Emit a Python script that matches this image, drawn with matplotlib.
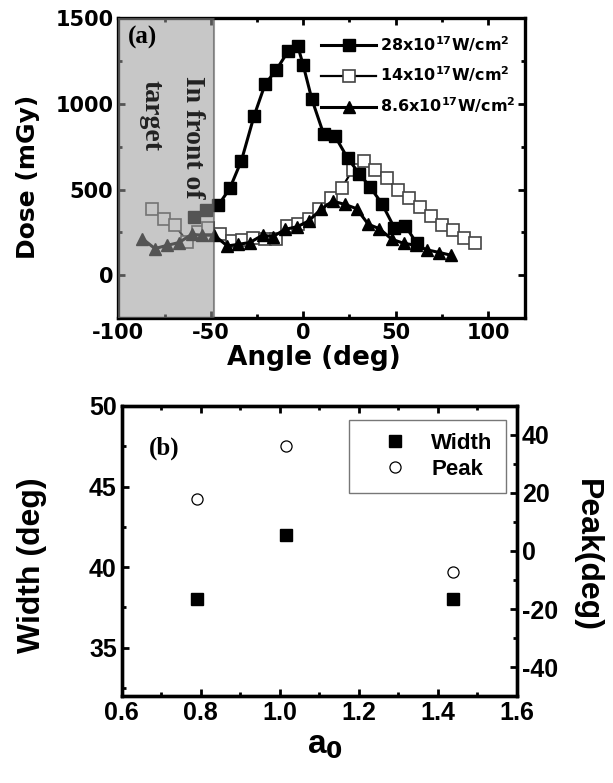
import matplotlib
matplotlib.use("Agg")
import matplotlib.pyplot as plt
from matplotlib.ticker import MultipleLocator

plt.rcParams['font.family'] = ['Liberation Sans', 'DejaVu Sans']
plt.rcParams['font.weight'] = 'bold'
plt.rcParams['axes.unicode_minus'] = False
plt.rcParams['mathtext.fontset'] = 'custom'
plt.rcParams['mathtext.rm'] = 'DejaVu Sans:bold'
plt.rcParams['mathtext.bf'] = 'DejaVu Sans:bold'
plt.rcParams['mathtext.default'] = 'bf'

# panel (a): dose vs angle
ang_28 = [-59, -52.4, -46, -39.7, -33.4, -26.5, -20.6, -14.6, -8.0, -2.9, 0.0, 4.7, 11.0,
          17.3, 24.0, 30.3, 36.3, 42.6, 49.3, 55.3, 61.4]
dose_28 = [341, 378, 407, 506, 669, 932, 1115, 1198, 1310, 1337, 1227, 1027, 826,
           810, 684, 593, 513, 417, 277, 287, 186]

ang_14 = [-81.6, -75.3, -69.3, -62.7, -56.7, -51.3, -45.1, -38.6, -32.9, -26.9, -20.9, -14.8,
          -8.5, -2.6, 2.9, 8.7, 15.0, 21.0, 26.7, 33.0, 39.0, 45.1, 51.1, 57.0, 63.2, 69.2,
          75.1, 81.3, 87.0, 93.2]
dose_14 = [388, 326, 291, 194, 252, 277, 238, 199, 205, 219, 213, 213,
           287, 300, 326, 388, 448, 510, 616, 665, 616, 568, 496, 448, 399, 345,
           291, 263, 219, 186]

ang_86 = [-87, -80.2, -73.5, -67.2, -60.3, -54.5, -48.2, -41, -35, -28.9, -22, -16.3, -9.8,
          -3.1, 2.9, 9.6, 15.9, 22.6, 28.9, 35.2, 41.2, 48, 54.3, 61, 67.2, 73.7, 80]
dose_86 = [213, 155, 174, 190, 238, 233, 233, 170, 180, 190, 233, 225, 267,
           283, 316, 384, 432, 413, 388, 297, 271, 209, 186, 174, 147, 132, 116]

labels_a = [r'28x10$^{17}$W/cm$^{2}$', r'14x10$^{17}$W/cm$^{2}$', r'8.6x10$^{17}$W/cm$^{2}$']

# panel (b): width and peak vs a0
a0 = [0.79, 1.016, 1.437]
width = [38, 42, 38]
peak = [18.1, 36.3, -7.1]

fig = plt.figure(figsize=(6.13, 7.83), dpi=100)

def style(ax, size, right=True):
    for s in ax.spines.values():
        s.set_linewidth(2.4)
    ax.tick_params(which='both', direction='in', top=True, right=right, width=2, labelsize=size)
    ax.tick_params(which='major', length=5)
    ax.tick_params(which='minor', length=3)

ax1 = fig.add_axes([0.193, 0.594, 0.6635, 0.3826])
ax1.plot(ang_28, dose_28, '-s', color='black', lw=2.2, ms=8, label=labels_a[0], zorder=3)
ax1.plot(ang_14, dose_14, '-s', color='black', lw=1.6, ms=8, mfc='white', mec='#444444',
         mew=1.2, label=labels_a[1], zorder=2)
ax1.plot(ang_86, dose_86, '-^', color='black', lw=2.2, ms=9, label=labels_a[2], zorder=3)
ax1.axvspan(-100, -48, facecolor='#9a9a9a', alpha=0.55, edgecolor='#444444', lw=1.5, zorder=4)
ax1.set_xlim(-100, 120)
ax1.set_ylim(-250, 1500)
ax1.xaxis.set_major_locator(MultipleLocator(50))
ax1.xaxis.set_minor_locator(MultipleLocator(25))
ax1.yaxis.set_major_locator(MultipleLocator(500))
ax1.yaxis.set_minor_locator(MultipleLocator(250))
style(ax1, 15)
for lab in ax1.get_xticklabels() + ax1.get_yticklabels():
    lab.set_family('DejaVu Sans')
ax1.set_xlabel('Angle (deg)', fontsize=19, fontweight='bold', family='DejaVu Sans')
ax1.set_ylabel('Dose (mGy)', fontsize=18, fontweight='bold', family='DejaVu Sans')
ax1.xaxis.set_label_coords(0.481, -0.09)
ax1.yaxis.set_label_coords(-0.193, 0.47)
ax1.text(-95, 1390, '(a)', family='Liberation Serif', fontsize=18, fontweight='bold',
         va='center', zorder=6)
ax1.text(-59.6, 1165, 'In front of', family='Liberation Serif', fontsize=20, fontweight='bold',
         rotation=270, ha='center', va='top', color='#222222', zorder=6)
ax1.text(-82.3, 1140, 'target', family='Liberation Serif', fontsize=20, fontweight='bold',
         rotation=270, ha='center', va='top', color='#222222', zorder=6)
leg1 = ax1.legend(loc='upper right', frameon=False, handlelength=3.4,
                  handletextpad=0.25, labelspacing=0.7, borderaxespad=0.2,
                  bbox_to_anchor=(1.0, 0.98),
                  prop={'family': 'DejaVu Sans', 'weight': 'bold', 'size': 11.5})

ax2 = fig.add_axes([0.1985, 0.1111, 0.6449, 0.3704])
ax3 = ax2.twinx()
h1, = ax2.plot(a0, width, 's', color='black', ms=8.6, label='Width')
h2, = ax3.plot(a0, peak, 'o', mfc='white', mec='black', mew=0.9, ms=8, label='Peak')
ax2.set_xlim(0.6, 1.6)
ax2.set_ylim(32, 50)
ax3.set_ylim(-50, 50)
ax2.xaxis.set_major_locator(MultipleLocator(0.2))
ax2.xaxis.set_minor_locator(MultipleLocator(0.1))
ax2.yaxis.set_major_locator(MultipleLocator(5))
ax2.yaxis.set_minor_locator(MultipleLocator(2.5))
ax3.yaxis.set_major_locator(MultipleLocator(20))
ax3.yaxis.set_minor_locator(MultipleLocator(10))
style(ax2, 18, right=False)
for s in ax3.spines.values():
    s.set_linewidth(2.4)
ax3.tick_params(which='both', direction='in', width=2, labelsize=18)
ax3.tick_params(which='major', length=5)
ax3.tick_params(which='minor', length=3)
ax2.set_xlabel(r'a$_0$', fontsize=24, fontweight='bold')
ax2.set_ylabel('Width (deg)', fontsize=23, fontweight='bold')
ax3.set_ylabel('Peak(deg)', fontsize=23, fontweight='bold', rotation=270)
ax2.xaxis.set_label_coords(0.515, -0.117)
ax2.yaxis.set_label_coords(-0.19, 0.452)
ax3.yaxis.set_label_coords(1.215, 0.486)
ax2.text(0.668, 47.4, '(b)', family='Liberation Serif', fontsize=18, fontweight='bold', va='center')
leg = ax2.legend([h1, h2], ['Width', 'Peak'], loc='upper right', fontsize=16, fancybox=False,
                 edgecolor='#555555', handletextpad=0.15, borderpad=0.6, borderaxespad=0,
                 handlelength=2.95, labelspacing=0.2, bbox_to_anchor=(0.972, 0.952))
leg.get_frame().set_linewidth(1.0)

fig.savefig('out.png', dpi=100)
